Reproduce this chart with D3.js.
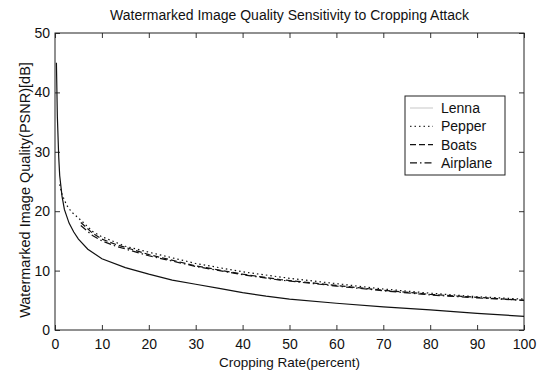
<!DOCTYPE html>
<html>
<head>
<meta charset="utf-8">
<script src="https://cdn.jsdelivr.net/npm/d3@7"></script>
<style>
  body { margin: 0; background: #fff; }
  svg { display: block; font-family: 'Liberation Sans', Arial, sans-serif; }
</style>
</head>
<body>
<div id="chart"></div>
<script>
// data
const seriesNames = ['Lenna', 'Pepper', 'Boats', 'Airplane'];
const lenna = [[0.3, 45], [0.5, 36], [0.8, 29], [1, 26], [1.5, 22.5], [2, 20.3], [3, 18], [4, 16.5],
  [5, 15.3], [7, 13.6], [10, 12], [15, 10.5], [20, 9.4], [25, 8.4], [30, 7.7], [35, 7], [40, 6.3],
  [45, 5.7], [50, 5.2], [60, 4.5], [70, 3.9], [80, 3.4], [90, 2.8], [100, 2.3]];
const pepper = [[1, 24.5], [1.5, 22.8], [2.5, 21], [3.5, 19.9], [5.5, 18.5], [8, 16.6], [10, 15.7],
  [15, 14.1], [20, 13.1], [30, 11.2], [40, 9.8], [50, 8.7], [60, 7.8], [70, 6.9], [80, 6.2],
  [90, 5.6], [100, 5.2]];
const boats = [[5.5, 18.1], [8, 16.3], [10, 15.3], [13, 14.4], [20, 12.7], [30, 10.8], [40, 9.4],
  [48, 8.5], [60, 7.5], [70, 6.7], [76, 6.3], [80, 6.0], [90, 5.5], [100, 5.0]];
const airplane = [[5.5, 17.6], [8, 15.9], [10, 15.0], [13, 14.1], [20, 12.5], [30, 10.7], [40, 9.3],
  [48, 8.4], [60, 7.4], [70, 6.6], [76, 6.2], [80, 5.9], [90, 5.4], [100, 5.0]];
const xTicks = [0, 10, 20, 30, 40, 50, 60, 70, 80, 90, 100];
const yTicks = [0, 10, 20, 30, 40, 50];

const width = 542, height = 372;
const styles = [
  { dash: null, legendStroke: '#d0d0d0' },
  { dash: '1.5,3', legendStroke: '#333' },
  { dash: '6,3', legendStroke: '#111' },
  { dash: '7,3,1.5,3', legendStroke: '#111' }
];
const data = [lenna, pepper, boats, airplane];

const svg = d3.select('#chart').append('svg')
  .attr('width', width)
  .attr('height', height);

const x = d3.scaleLinear().domain([0, 100]).range([55, 524]);
const y = d3.scaleLinear().domain([0, 50]).range([330, 33]);

// axes, ticks pointing inward like matlab
svg.append('g')
  .attr('transform', `translate(0,${y(0)})`)
  .call(d3.axisBottom(x).tickValues(xTicks).tickSizeInner(-5).tickSizeOuter(0).tickPadding(9))
  .call(g => g.select('.domain').remove())
  .call(g => g.selectAll('text').attr('font-size', 14).attr('font-family', null).attr('fill', '#111'));

svg.append('g')
  .attr('transform', `translate(${x(0)},0)`)
  .call(d3.axisLeft(y).tickValues(yTicks).tickSizeInner(-5).tickSizeOuter(0).tickPadding(5))
  .call(g => g.select('.domain').remove())
  .call(g => g.selectAll('text').attr('font-size', 14).attr('font-family', null).attr('fill', '#111'));

svg.append('g')
  .attr('transform', `translate(0,${y(50)})`)
  .call(d3.axisTop(x).tickValues(xTicks).tickSizeInner(-5).tickSizeOuter(0).tickFormat(''))
  .call(g => g.select('.domain').remove());

svg.append('g')
  .attr('transform', `translate(${x(100)},0)`)
  .call(d3.axisRight(y).tickValues(yTicks).tickSizeInner(-5).tickSizeOuter(0).tickFormat(''))
  .call(g => g.select('.domain').remove());

svg.selectAll('.tick line').attr('stroke', '#333');

svg.append('rect')
  .attr('x', x(0))
  .attr('y', y(50))
  .attr('width', x(100) - x(0))
  .attr('height', y(0) - y(50))
  .attr('fill', 'none')
  .attr('stroke', '#222')
  .attr('stroke-width', 1);

// curves
const line = d3.line().x(d => x(d[0])).y(d => y(d[1]));
svg.append('g')
  .attr('fill', 'none')
  .selectAll('path')
  .data(data)
  .join('path')
    .attr('d', line)
    .attr('stroke', '#111')
    .attr('stroke-width', 1.2)
    .attr('stroke-dasharray', (d, i) => styles[i].dash);

// titles
svg.append('text')
  .attr('x', (x(0) + x(100)) / 2)
  .attr('y', 20)
  .attr('text-anchor', 'middle')
  .attr('font-size', 14)
  .attr('fill', '#111')
  .text('Watermarked Image Quality Sensitivity to Cropping Attack');

svg.append('text')
  .attr('x', (x(0) + x(100)) / 2)
  .attr('y', 367)
  .attr('text-anchor', 'middle')
  .attr('font-size', 13.5)
  .attr('fill', '#111')
  .text('Cropping Rate(percent)');

svg.append('text')
  .attr('transform', 'translate(30,190) rotate(-90)')
  .attr('text-anchor', 'middle')
  .attr('font-size', 14.5)
  .attr('fill', '#111')
  .text('Watermarked Image Quality(PSNR)[dB]');

// legend
const legend = svg.append('g');
legend.append('rect')
  .attr('x', 405)
  .attr('y', 96)
  .attr('width', 100)
  .attr('height', 79)
  .attr('fill', '#fff')
  .attr('stroke', '#222');

const entry = legend.selectAll('g.entry')
  .data(seriesNames)
  .join('g')
    .attr('class', 'entry')
    .attr('transform', (d, i) => `translate(0,${108 + i * 18.3})`);

entry.append('line')
  .attr('x1', 410)
  .attr('x2', 433)
  .attr('stroke', (d, i) => styles[i].legendStroke)
  .attr('stroke-width', 1.2)
  .attr('stroke-dasharray', (d, i) => styles[i].dash);

entry.append('text')
  .attr('x', 441)
  .attr('dy', '0.35em')
  .attr('font-size', 14)
  .attr('fill', '#111')
  .text(d => d);
</script>
</body>
</html>
